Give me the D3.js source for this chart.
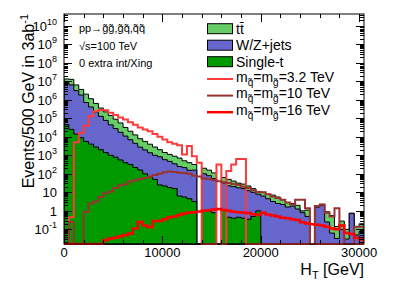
<!DOCTYPE html>
<html lang="en">
<head>
<meta charset="UTF-8">
<title>HT distribution, 100 TeV</title>
<script src="https://d3js.org/d3.v7.min.js"></script>
<style>
  body { margin: 0; background: #fff; }
  svg text { font-family: "Liberation Sans", Arial, Helvetica, sans-serif; fill: #000; }
</style>
</head>
<body>
<svg id="chart" width="405" height="291"></svg>
<script>
// 500 GeV bins, 0 .. 30500 GeV (61 bins), events in 3 ab^-1
const BIN_WIDTH = 500;
const ttbar = [4.3e6, 6.3e6, 3.2e6, 1.8e6, 1.3e6, 7.3e5, 4.1e5, 2.3e5, 1.45e5, 9.7e4,
  6.1e4, 3.85e4, 2.1e4, 1.3e4, 8.2e3, 5.1e3, 3.65e3, 2.6e3, 1.8e3, 1.18e3,
  830, 650, 545, 460, 290, 245, 160, 0, 100, 79,
  56, 0, 31, 28, 20, 14, 12, 9.8, 5.8, 3.3,
  3.7, 3.4, 3.9, 3.1, 1.8, 1.2, 0.7, 0.74, 0.2, 0.6,
  0, 0, 0.24, 0.64, 0.5, 0.11, 0.18, 0.07, 0, 0.09, 0.12];
const wzjets = [8.9e6, 6.3e6, 3.1e6, 1.8e6, 7.0e5, 4.0e5, 2.2e5, 1.25e5, 7.5e4, 4.3e4,
  2.7e4, 1.7e4, 1.05e4, 6.6e3, 4.2e3, 2.6e3, 1.85e3, 1.3e3, 950, 800,
  560, 450, 330, 240, 210, 150, 155, 0, 99, 78,
  55, 0, 31, 22, 20, 17, 15.5, 12, 9.5, 6.9,
  6.3, 4.5, 3.2, 2.5, 2.2, 1.6, 1.8, 1.26, 0.8, 0.5,
  0, 1.6, 2.0, 0.25, 0.063, 0.032, 0.1, 0.03, 0.74, 0.05, 0.08];
const singleTop = [4.5e4, 2.5e4, 1.4e4, 8.9e3, 5.6e3, 4.0e3, 2.8e3, 2.0e3, 1.4e3, 1.0e3,
  790, 560, 400, 320, 220, 160, 100, 71, 50, 25,
  22, 18, 16, 6.3, 5.6, 4.5, 3.2, 0, 1.0, 1.0,
  0.79, 0, 1.1, 0.45, 0.4, 0.45, 0.4, 0.35, 0.5, 1.0,
  0, 0, 0, 0, 0, 0, 0, 0, 0, 0,
  0, 0, 0, 0, 0, 0, 0, 0, 0, 0, 0];
const sig32 = [0, 0.45, 5.0e3, 1.6e4, 4.0e4, 1.3e5, 2.4e5, 2.8e5, 2.7e5, 2.0e5,
  1.5e5, 1.1e5, 8.5e4, 6.0e4, 4.5e4, 3.2e4, 2.5e4, 2.0e4, 1.4e4, 1.0e4,
  7.1e3, 5.0e3, 4.2e3, 3.5e3, 1.1e3, 3.2e3, 900, 400, 0, 0,
  0, 320, 0, 140, 320, 630, 630, 0, 0, 0,
  0, 0, 0, 0, 0, 0, 0, 0, 0, 0,
  0, 0, 0, 0, 0, 0, 0, 0, 0, 0, 0];
const sig10 = [0, 0.25, 0, 0, 0.9, 2.5, 3.2, 5.6, 8.9, 11,
  17, 24, 27, 38, 45, 52, 60, 71, 85, 100,
  120, 132, 126, 115, 110, 100, 79, 71, 56, 52,
  46, 40, 35, 32, 28, 25, 20, 17, 13, 10.5,
  10, 7.9, 6.0, 5.0, 4.0, 2.8, 2.2, 4.0, 4.0, 1.4,
  0, 1.8, 2.2, 0.8, 0.5, 1.4, 0.16, 0, 0, 0.14, 0.14];
const sig16 = [0, 0, 0, 0, 0, 0, 0, 0, 0.027, 0.032,
  0.035, 0.042, 0.05, 0.06, 0.11, 0.25, 0.16, 0.13, 0.28, 0.28,
  0.35, 0.45, 0.5, 0.6, 0.72, 0.79, 0.83, 0.91, 1.0, 1.07,
  1.17, 1.26, 1.12, 1.0, 0.89, 0.83, 0.79, 0.76, 0.66, 0.6,
  0.79, 0.63, 0.56, 0.49, 0.42, 0.4, 0.35, 0.32, 0.24, 0.21,
  0.19, 0.18, 0.16, 0.14, 0.11, 0.1, 0.16, 0.063, 0.056, 0.035, 0.028];
const xTickLabels = [0, 10000, 20000, 30000];
const yDecades = d3.range(-1, 11);

const svg = d3.select("#chart");
const pLeft = 64, pRight = 364, pTop = 14, pBottom = 244;

const x = d3.scaleLinear().domain([0, 30500]).range([pLeft, pRight]);
const y = d3.scaleLog().domain([Math.pow(10, -1.79), Math.pow(10, 10.63)]).range([pBottom, pTop]);

// bins below the axis minimum (or empty) drop to the frame bottom, like ROOT
function yPos(v) {
    return v > y.domain()[0] ? y(v) : pBottom;
}

function stepPath(vals, closed) {
    let d = "M" + x(0) + "," + pBottom;
    vals.forEach((v, i) => {
        const yy = yPos(v);
        d += "L" + x(i * BIN_WIDTH) + "," + yy + "L" + x((i + 1) * BIN_WIDTH) + "," + yy;
    });
    d += "L" + x(vals.length * BIN_WIDTH) + "," + pBottom;
    if (closed) d += "Z";
    return d;
}

svg.append("defs").append("clipPath").attr("id", "plotclip")
    .append("rect").attr("x", pLeft).attr("y", pTop).attr("width", pRight - pLeft).attr("height", pBottom - pTop + 1);

const plot = svg.append("g").attr("clip-path", "url(#plotclip)");

// stacked backgrounds
const rows = ttbar.map((_, i) => ({ single: singleTop[i], wz: wzjets[i], tt: ttbar[i] }));
const stacked = d3.stack().keys(["single", "wz", "tt"])(rows);
const colors = { single: "#009900", wz: "#6666cc", tt: "#66cc66" };

// top of the stack first, lower layers painted over it
stacked.slice().reverse().forEach(layer => {
    plot.append("path")
        .attr("d", stepPath(layer.map(d => d[1]), true))
        .attr("fill", colors[layer.key])
        .attr("stroke", "#000")
        .attr("stroke-width", 1);
});

// signals
const signals = [
    { vals: sig32, color: "#ff3a3a", width: 2 },
    { vals: sig10, color: "#993333", width: 2 },
    { vals: sig16, color: "#ff0000", width: 2.5 }
];
signals.forEach(s => {
    plot.append("path")
        .attr("d", stepPath(s.vals, false))
        .attr("fill", "none")
        .attr("stroke", s.color)
        .attr("stroke-width", s.width);
});

// frame
svg.append("rect")
    .attr("x", pLeft).attr("y", pTop)
    .attr("width", pRight - pLeft).attr("height", pBottom - pTop)
    .attr("fill", "none").attr("stroke", "#000").attr("stroke-width", 1);

// y ticks (log, major + minor, both sides)
const ticks = svg.append("g").attr("stroke", "#000").attr("stroke-width", 1);
function yTick(v, len) {
    const yy = Math.round(y(v)) + 0.5;
    ticks.append("line").attr("x1", pLeft).attr("x2", pLeft + len).attr("y1", yy).attr("y2", yy);
    ticks.append("line").attr("x1", pRight).attr("x2", pRight - len).attr("y1", yy).attr("y2", yy);
}
d3.range(-2, 11).forEach(k => {
    for (let m = 1; m <= 9; m++) {
        const v = m * Math.pow(10, k);
        if (v < y.domain()[0] || v > y.domain()[1]) continue;
        yTick(v, m === 1 ? 8 : 4);
    }
});

// x ticks
for (let v = 0; v <= 30000; v += 2000) {
    const len = v % 10000 === 0 ? 8 : 4;
    const xx = Math.round(x(v)) + 0.5;
    ticks.append("line").attr("x1", xx).attr("x2", xx).attr("y1", pBottom).attr("y2", pBottom - len);
    ticks.append("line").attr("x1", xx).attr("x2", xx).attr("y1", pTop).attr("y2", pTop + len);
}

// y tick labels
yDecades.forEach(k => {
    const t = svg.append("text")
        .attr("x", 57).attr("y", y(Math.pow(10, k)) + 5)
        .attr("text-anchor", "end").attr("font-size", 13);
    if (k === 0) t.text("1");
    else if (k === 1) t.text("10");
    else {
        t.append("tspan").text("10");
        t.append("tspan").attr("dy", -6).attr("font-size", 9).text(k);
    }
});

// x tick labels
svg.selectAll(".xlab").data(xTickLabels).join("text")
    .attr("class", "xlab")
    .attr("x", d => x(d)).attr("y", 257)
    .attr("text-anchor", "middle").attr("font-size", 13)
    .text(d => d);

// axis titles
const xt = svg.append("text").attr("x", 364).attr("y", 275)
    .attr("text-anchor", "end").attr("font-size", 16);
xt.append("tspan").text("H");
xt.append("tspan").attr("dy", 4).attr("font-size", 11).text("T");
xt.append("tspan").attr("dy", -4).text(" [GeV]");

const yt = svg.append("text").attr("transform", "translate(34,14) rotate(-90)")
    .attr("text-anchor", "end").attr("font-size", 16);
yt.append("tspan").text("Events/500 GeV in 3ab");
yt.append("tspan").attr("dy", -6).attr("font-size", 11).text("-1");

// annotations
const notes = ["pp\u2192g\u0303g\u0303,g\u0303q\u0303,q\u0303q\u0303", "\u221as=100 TeV", "0 extra int/Xing"];
notes.forEach((s, i) => {
    svg.append("text").attr("x", 79).attr("y", 32 + i * 17.5)
        .attr("font-size", 11).text(s);
});

// legend
const legend = svg.append("g");
const boxEntries = [
    { label: "tt\u0304", color: "#66cc66" },
    { label: "W/Z+jets", color: "#6666cc" },
    { label: "Single-t", color: "#009900" }
];
boxEntries.forEach((e, i) => {
    const cy = 28.7 + i * 16.5;
    legend.append("rect").attr("x", 207.5).attr("y", cy - 5).attr("width", 25).attr("height", 10)
        .attr("fill", e.color).attr("stroke", "#000").attr("stroke-width", 1);
    legend.append("text").attr("x", 236).attr("y", cy + 5).attr("font-size", 14).text(e.label);
});

const massLabels = ["3.2 TeV", "10 TeV", "16 TeV"];
massLabels.forEach((m, i) => {
    const cy = 79 + i * 16.6;
    legend.append("line").attr("x1", 207).attr("x2", 233).attr("y1", cy).attr("y2", cy)
        .attr("stroke", signals[i].color).attr("stroke-width", signals[i].width);
    const t = legend.append("text").attr("x", 236).attr("y", cy + 2.5).attr("font-size", 14);
    t.append("tspan").text("m");
    t.append("tspan").attr("dy", 4).attr("font-size", 10).text("q\u0303");
    t.append("tspan").attr("dy", -4).text("=m");
    t.append("tspan").attr("dy", 4).attr("font-size", 10).text("g\u0303");
    t.append("tspan").attr("dy", -4).text("=" + m);
});
</script>
</body>
</html>
